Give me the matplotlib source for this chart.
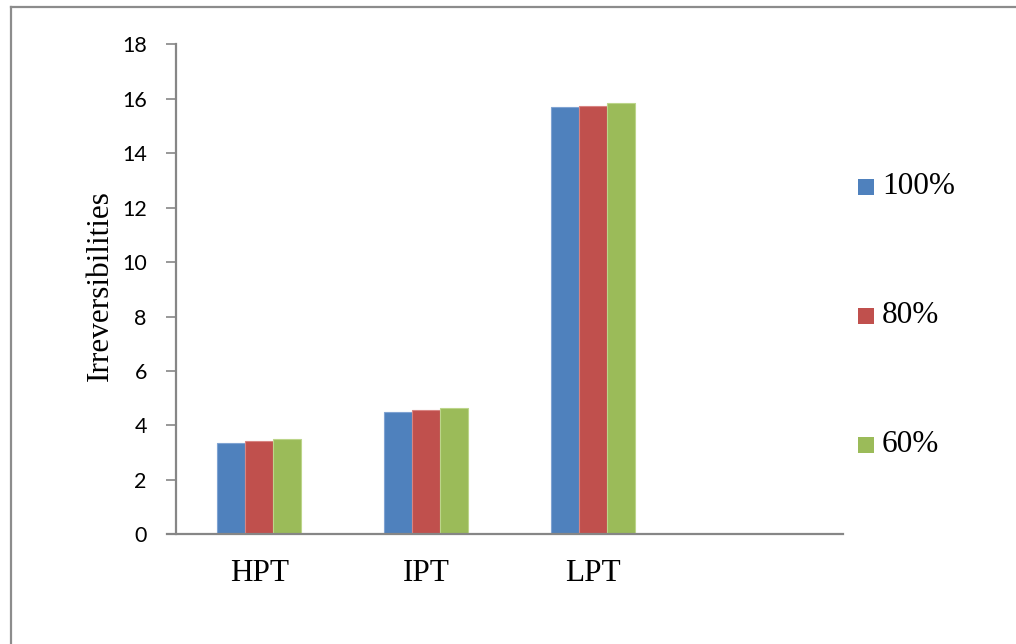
import numpy as np
import matplotlib
matplotlib.use("Agg")
import matplotlib.pyplot as plt
from matplotlib.lines import Line2D

categories = ["HPT", "IPT", "LPT"]
series_names = ["100%", "80%", "60%"]
load_100 = [3.34, 4.50, 15.71]
load_80 = [3.42, 4.56, 15.74]
load_60 = [3.49, 4.64, 15.86]
y_ticks = [0, 2, 4, 6, 8, 10, 12, 14, 16, 18]

colors = ["#4F81BD", "#C0504D", "#9BBB59"]
edges = ["#7FA3D2", "#D88482", "#BCD58A"]
axis_gray = "#868686"

W, H = 1016, 644
fig = plt.figure(figsize=(W / 100, H / 100), dpi=100)
fig.patch.set_facecolor("white")

# outer chart frame (left and top edges)
fig.add_artist(Line2D([11 / W, 11 / W], [0, 1 - 7 / H], color="#8C8C8C", lw=1.6))
fig.add_artist(Line2D([11 / W, 1], [1 - 7 / H, 1 - 7 / H], color="#8C8C8C", lw=1.6))

ax = fig.add_axes([176 / W, 1 - 534.3 / H, (843 - 176) / W, (534.3 - 44.3) / H])

x = np.arange(len(categories))
width = 0.168
for i, (vals, name) in enumerate(zip([load_100, load_80, load_60], series_names)):
    ax.bar(x + (i - 1) * width, vals, width, color=colors[i], edgecolor=edges[i],
           linewidth=0.8, label=name, zorder=2)

ax.set_xlim(-0.5, 3.5)
ax.set_ylim(0, 18)
ax.set_yticks(y_ticks)
ax.set_yticklabels([str(v) for v in y_ticks], fontfamily="Lato", fontsize=15.5)
ax.set_xticks(x)
ax.set_xticklabels(categories, fontfamily="Liberation Serif", fontsize=22.5)
ax.tick_params(axis="x", length=0, pad=18)
ax.tick_params(axis="y", length=7, width=1.2, color=axis_gray, pad=14)

for s in ["top", "right"]:
    ax.spines[s].set_visible(False)
for s in ["left", "bottom"]:
    ax.spines[s].set_color(axis_gray)
    ax.spines[s].set_linewidth(1.6)
ax.spines["bottom"].set_bounds(-0.5 - 9 / 166.7, 3.5)

ax.set_ylabel("Irreversibilities", fontfamily="Liberation Serif", fontsize=22.5)
ax.yaxis.set_label_coords(-0.091, 0.507)

# legend entries, spaced down the right side
leg_y = [187, 316, 445]
for name, c, yy in zip(series_names, colors, leg_y):
    fig.patches.append(plt.Rectangle((858 / W, 1 - (yy + 8) / H), 16 / W, 16 / H,
                                     transform=fig.transFigure, facecolor=c,
                                     edgecolor="none", figure=fig))
    fig.text(882 / W, 1 - yy / H, name, fontfamily="Liberation Serif", fontsize=22.5,
             va="center", ha="left")

fig.savefig("out.png", dpi=100, facecolor="white")
